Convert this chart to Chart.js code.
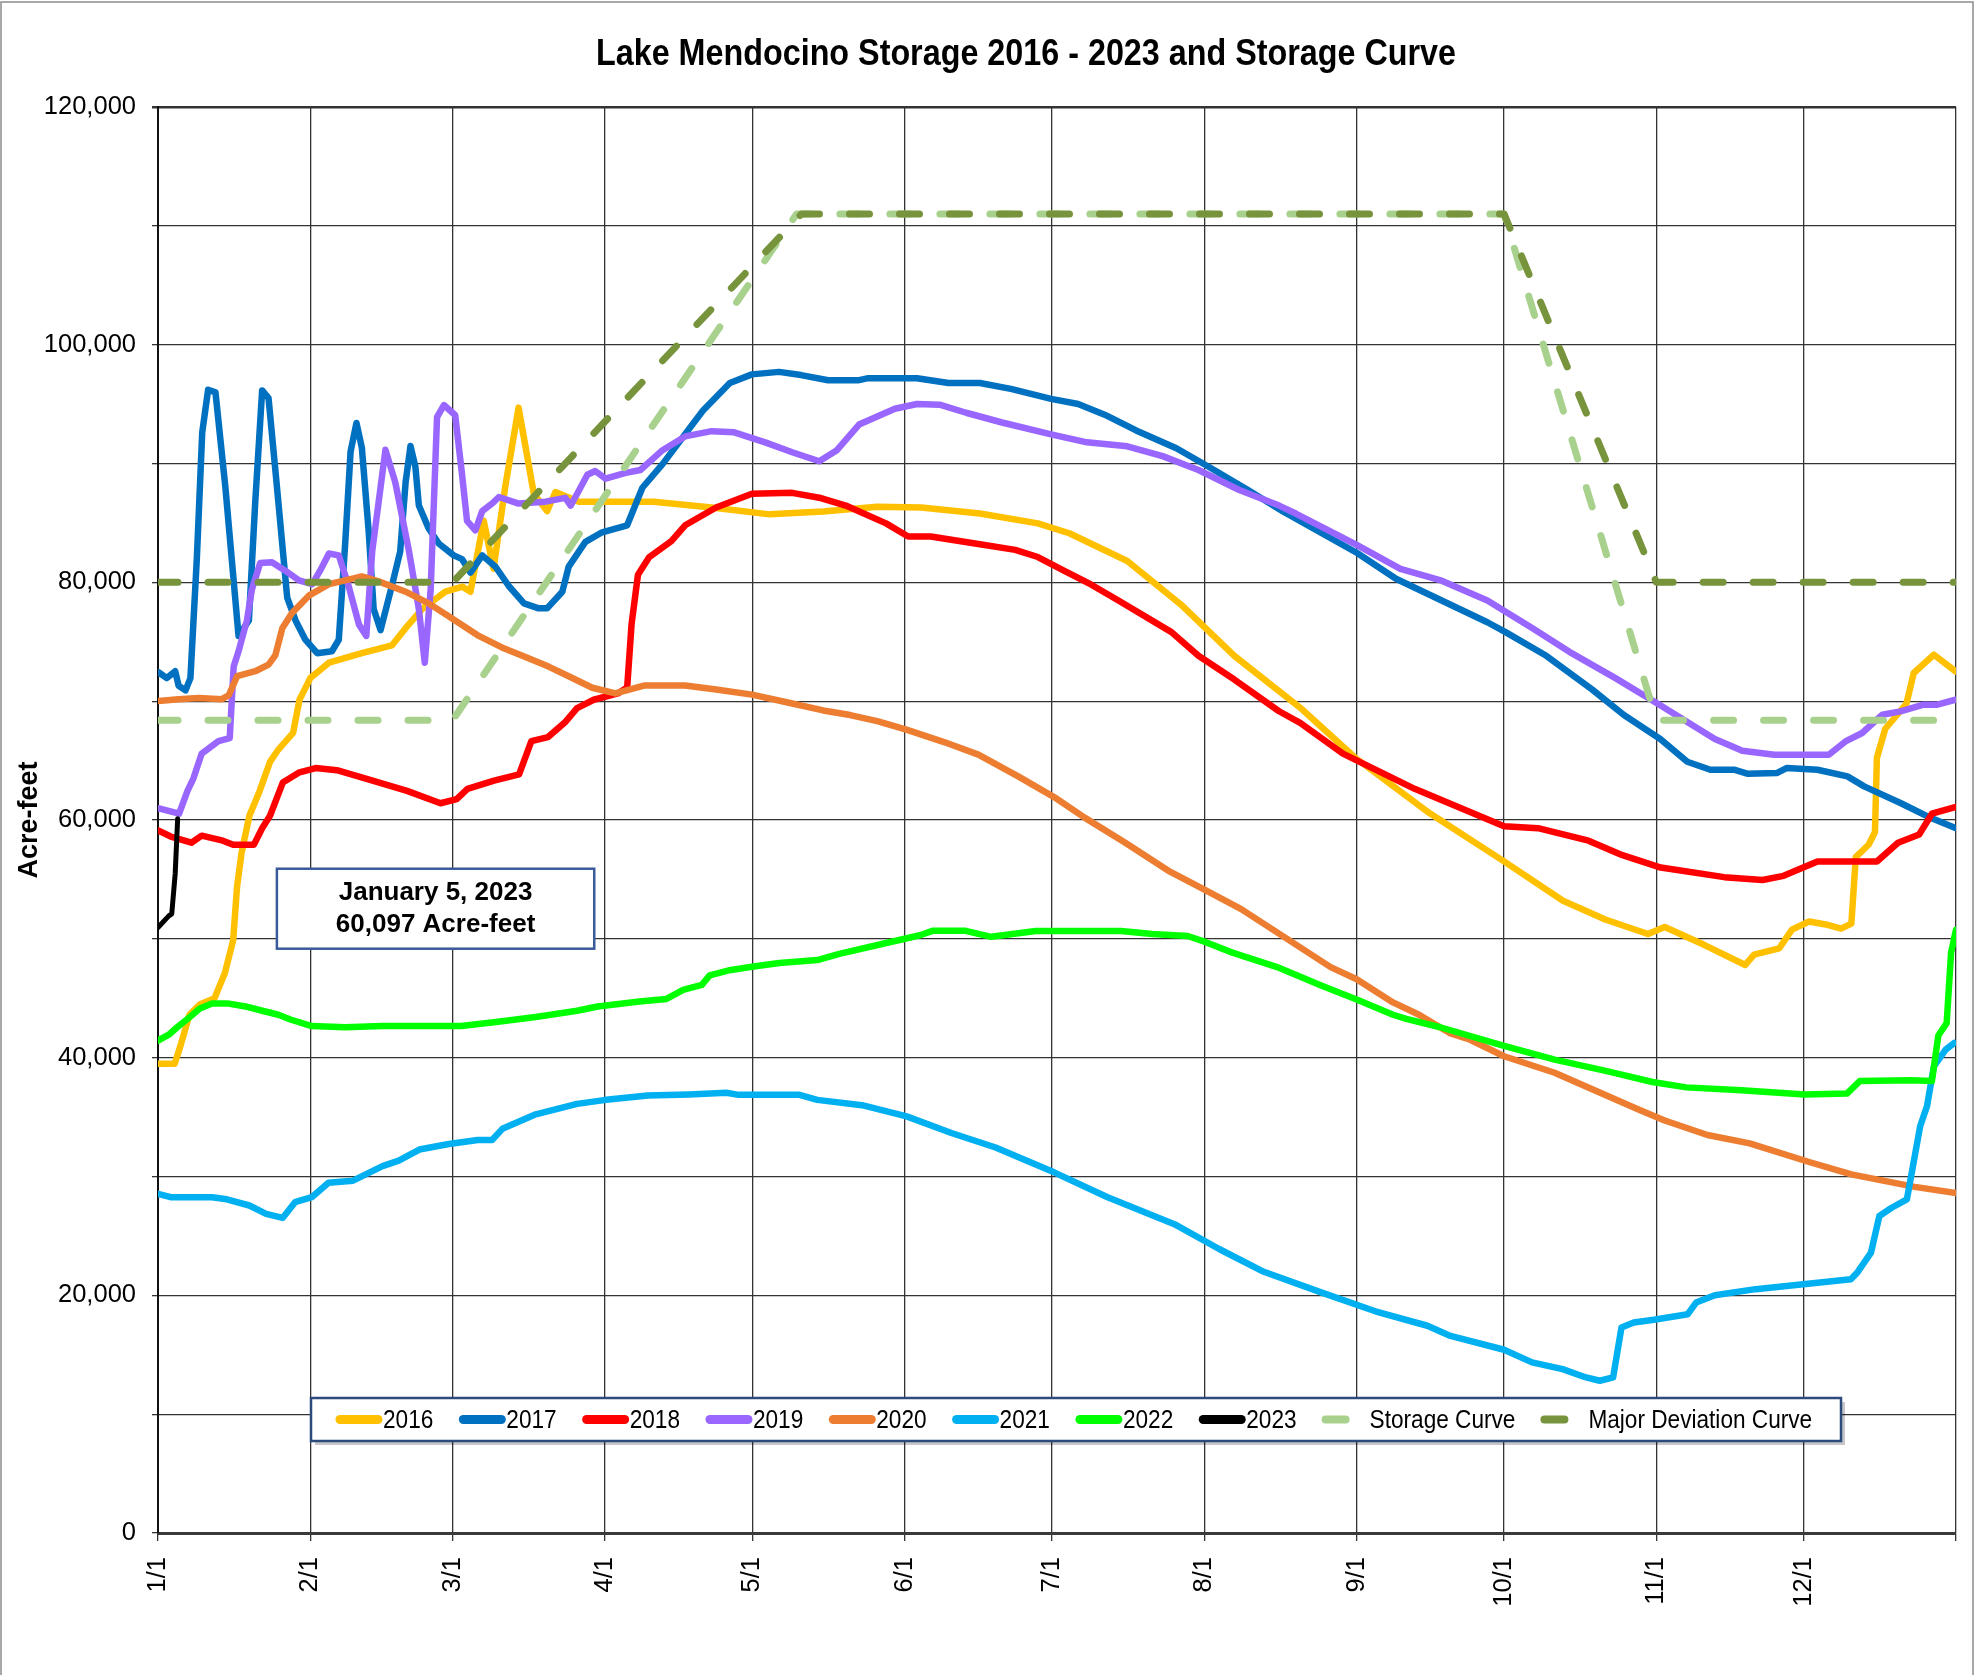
<!DOCTYPE html>
<html>
<head>
<meta charset="utf-8">
<title>Lake Mendocino Storage 2016 - 2023 and Storage Curve</title>
<script src="https://cdn.jsdelivr.net/npm/chart.js@4.4.1/dist/chart.umd.min.js"></script>
<style>
  html, body { margin: 0; padding: 0; background: #fff; }
  #wrap { position: relative; width: 1982px; height: 1675px; }
</style>
</head>
<body>
<div id="wrap"><canvas id="storageChart" width="1982" height="1675"></canvas></div>
<script>
// day-of-year positions (leap-year axis) for the month gridlines
const monthDays = [0, 31, 60, 91, 121, 152, 182, 213, 244, 274, 305, 335, 366];
const monthLabels = ['1/1', '2/1', '3/1', '4/1', '5/1', '6/1', '7/1', '8/1', '9/1', '10/1', '11/1', '12/1', ''];

// [day of year, acre-feet]
const storage2016 = [[0,39490],[3.4,39490],[4.7,41180],[6.4,43600],[8.5,44480],[11.5,45000],[13.6,47100],[15.3,49880],[16.1,54420],[17,57210],[18.6,60360],[20.7,62450],[22.8,64890],[24.5,65930],[27.5,67330],[28.8,70120],[31,71940],[34.8,73240],[41.5,74050],[47.6,74690],[50.4,76140],[53.8,77760],[58.5,79210],[62,79630],[63.6,79210],[66.3,85180],[68.3,81150],[70.7,88080],[73.4,94700],[76.5,87460],[79.2,85990],[80.9,87600],[85.7,86790],[90,86780],[100.9,86780],[112.7,86300],[124.5,85720],[135.4,85960],[146.4,86360],[155.4,86300],[167.3,85790],[179.1,84960],[185.5,84130],[197.3,81800],[208.2,78140],[219.1,73810],[232.5,69450],[243.7,65240],[258.4,60700],[274,56520],[286,53210],[294.6,51630],[303.3,50410],[306.7,51000],[314.5,49540],[323.1,47800],[324.9,48670],[330,49190],[332.6,50770],[336.1,51460],[339.5,51210],[342.6,50860],[344.7,51280],[345.6,56870],[348.2,57920],[349.5,58960],[349.9,65240],[351.6,67680],[355.9,69780],[357.4,72370],[361.5,73910],[365.9,72510]];
const storage2017 = [[0.1,72430],[1.8,71940],[3.5,72520],[4.2,71300],[5.6,70910],[6.6,71940],[7.9,81950],[9,92600],[10.2,96210],[11.7,95990],[13.7,88080],[16.4,75490],[18.5,76790],[19.8,86790],[21.2,96150],[22.5,95500],[24.2,88080],[26.3,78720],[28,76790],[30,75170],[32.4,74040],[35.4,74200],[36.8,75170],[38.1,83250],[39.2,91000],[40.4,93410],[41.5,91310],[42.9,84210],[43.9,77760],[45.3,75980],[47.6,79690],[49.3,82600],[50.4,88410],[51.4,91470],[52.4,89700],[53.1,86460],[55.1,84530],[57.2,83250],[60.2,82270],[61.9,81950],[63.6,80820],[66,82270],[68.7,81310],[71.4,79690],[74.5,78230],[77.5,77810],[79.2,77810],[82.3,79210],[83.6,81320],[87,83400],[90.4,84210],[95.5,84800],[98.6,87960],[102.7,89950],[110.9,94440],[116.4,96770],[120.9,97500],[126.4,97710],[130.9,97440],[136.4,97010],[142.7,97010],[144.6,97180],[154.5,97180],[160.9,96770],[167.3,96770],[173.6,96280],[181.8,95440],[187.3,95010],[192.7,94110],[199.1,92780],[207.3,91280],[213.6,89790],[221.8,87790],[229,85960],[244.1,82470],[252,80300],[261.3,78470],[270.6,76640],[274.3,75810],[282.6,73820],[291.9,70990],[298.4,68830],[305.8,66820],[311.3,64900],[316,64230],[320.8,64230],[323.5,63900],[329.6,63960],[331.6,64380],[337.8,64230],[343.9,63670],[347.3,62830],[354.7,61430],[360.2,60300],[365.9,59330]];
const storage2018 = [[0,59130],[2.6,58610],[6.8,58090],[8.9,58680],[13.2,58260],[15.3,57910],[19.5,57910],[21.2,59310],[22.8,60360],[25.4,63150],[28.8,64010],[32.1,64370],[36.4,64190],[42.3,63490],[50.7,62450],[57.5,61410],[60.8,61750],[63,62620],[68.4,63320],[73.5,63840],[76,66630],[79.4,66980],[82.8,68200],[85.3,69420],[88.7,70120],[93.6,70650],[95.5,71150],[96.4,76480],[97.7,80640],[100,82130],[104.5,83460],[107.3,84800],[113.6,86300],[120.9,87460],[129.1,87530],[134.6,87120],[140,86460],[148.2,84960],[152.7,83860],[157.3,83860],[167.3,83200],[174.5,82730],[179.1,82130],[184.5,80970],[190,79800],[195.5,78470],[206.3,75810],[211.8,73820],[219.1,71820],[228.2,69150],[232.5,68180],[241.2,65590],[255.8,62620],[274,59480],[280.9,59310],[291.2,58260],[298.1,57040],[305.9,56000],[318.8,55190],[326.6,54950],[330.9,55300],[337.8,56510],[349.9,56510],[354.2,58090],[358.5,58780],[361.1,60530],[366,61110]];
const storage2019 = [[0,60990],[4.3,60530],[6,62450],[7.2,63490],[8.9,65590],[12.3,66630],[14.6,66900],[15.4,72910],[16.4,74200],[18.1,76790],[19.1,79370],[20.8,81630],[23.2,81690],[25.9,80980],[28.7,80170],[31.4,79850],[33,80980],[34.8,82430],[36.8,82270],[38.8,79690],[40.9,76460],[42.4,75490],[43.6,82600],[46.3,91150],[48.3,88410],[51.1,82600],[53.1,77760],[54.3,73240],[55.5,79370],[56.8,93900],[58.2,94920],[60.5,94060],[61.9,89050],[62.9,85180],[64.6,84370],[66,85990],[68,86630],[69.4,87180],[73.4,86630],[78.9,86790],[82.9,87110],[84,86460],[85.3,87430],[87.4,89050],[89,89370],[91.1,88720],[95.2,89210],[98.2,89450],[102.7,91120],[107.3,92280],[112.7,92720],[117.3,92620],[123.6,91780],[129.1,90950],[134.6,90190],[138.2,91120],[142.7,93280],[150,94610],[154.5,95010],[159.1,94950],[164.5,94270],[171.8,93450],[181.8,92450],[189.1,91780],[197.3,91450],[204.5,90620],[211.8,89450],[220,87790],[228.2,86460],[231.6,85790],[244.1,83130],[252.9,81140],[261.3,80140],[270.6,78470],[279.8,76140],[287.3,74150],[296.5,71980],[305.8,69650],[316.9,66820],[322.5,65830],[329,65490],[340.1,65490],[343.5,66610],[346.9,67320],[351,68860],[354.7,69140],[359.4,69700],[362.2,69700],[365.9,70120]];
const storage2020 = [[0.1,70010],[4.2,70170],[8.3,70270],[13,70170],[14.4,70500],[16.1,72100],[19.8,72520],[22.5,73070],[23.9,73880],[25.3,76140],[27.3,77430],[30.7,78880],[34.8,79850],[38.1,80170],[41.5,80500],[44.9,80080],[50.4,79210],[55.1,78230],[60.5,76790],[65.3,75490],[70,74520],[74.8,73720],[79.5,72910],[83.6,72100],[88.4,71130],[93.1,70650],[99.1,71320],[107.3,71320],[113.6,70990],[120.9,70550],[128.2,69890],[135.4,69220],[140.9,68830],[146.4,68320],[152.5,67580],[160,66560],[167,65500],[175.1,63670],[182.4,61930],[188.7,60180],[196.9,58090],[206,55650],[213.3,54080],[220.5,52500],[229.6,50060],[238.7,47620],[244,46600],[251.4,44650],[256.7,43610],[263.1,42040],[267.1,41510],[274,40120],[284.3,38730],[293,37150],[301.6,35590],[306.7,34710],[315.4,33490],[324,32790],[336.1,31220],[344.7,30180],[357.6,29130],[366,28600]];
const storage2021 = [[0,28540],[2.6,28260],[11,28260],[14,28080],[18.6,27560],[22,26860],[25.4,26520],[27.9,27840],[31.3,28260],[34.7,29480],[39.7,29650],[45.7,30870],[49,31330],[53.2,32270],[59.2,32730],[65.1,33070],[68,33070],[70.1,34010],[76.9,35230],[85.3,36110],[91.2,36450],[99.7,36810],[108.1,36910],[115.7,37050],[118.2,36870],[130.6,36870],[134.2,36450],[143.3,36000],[152.4,35060],[161.5,33660],[170.5,32440],[182.4,30350],[193.3,28260],[206.9,25990],[216,23900],[225.1,21980],[236.9,20230],[247.8,18660],[258.4,17440],[263.1,16580],[274,15420],[279.7,14360],[285.9,13790],[290.7,13090],[293.5,12810],[296.2,13090],[297.9,17290],[300.4,17710],[304.5,17940],[311.4,18410],[313.1,19390],[316.9,20010],[325.2,20520],[334.9,20930],[344.6,21360],[345.9,21910],[348.7,23600],[350.4,26680],[352.9,27370],[356,28070],[357,30320],[358.7,34230],[360.1,35920],[361.5,39270],[363.9,40680],[365.6,41230]];
const storage2022 = [[0,41440],[2.2,41930],[3.9,42560],[6,43260],[8.5,44130],[11,44550],[14.4,44550],[17.8,44310],[21.2,43950],[24.5,43610],[27.1,43190],[31.3,42660],[38.1,42560],[45.7,42660],[61.7,42660],[68.4,42980],[76.9,43430],[85.3,43950],[89.5,44310],[98,44730],[103.5,44940],[106.9,45700],[110.7,46120],[112.3,46920],[116.6,47380],[121.6,47690],[126.5,47970],[134.2,48210],[138.7,48740],[147.8,49610],[155.1,50300],[157.8,50690],[164.2,50690],[169.6,50170],[178.7,50660],[196,50660],[202.4,50410],[209.6,50240],[213.3,49720],[218.7,48840],[227.8,47620],[236.9,46050],[244,44900],[251.4,43610],[254.1,43260],[261,42560],[274,40990],[284.3,39840],[294.7,38890],[304.2,37950],[311.1,37500],[322.3,37250],[335.2,36910],[343.8,36980],[346.4,38030],[356.8,38100],[361.1,38030],[362.4,41860],[364.1,42910],[365,48840],[366,50760]];
const storage2023 = [[0,50960],[2.2,51930],[2.8,52100],[3.5,55480],[4,60097]];
const storageCurve = [[0,68400],[60,68400],[130,111000],[274,111000],[305,68400],[366,68400]];
const majorDeviationCurve = [[0,80000],[60,80000],[131,111000],[274,111000],[305,80000],[366,80000]];

const seriesNames = ['2016', '2017', '2018', '2019', '2020', '2021', '2022', '2023', 'Storage Curve', 'Major Deviation Curve'];
const seriesColors = ['#FFC000', '#0070C0', '#FF0000', '#9966FF', '#ED7D31', '#00B0F0', '#00FF00', '#000000', '#A9D18E', '#77933C'];
const seriesData = [storage2016, storage2017, storage2018, storage2019, storage2020, storage2021, storage2022, storage2023, storageCurve, majorDeviationCurve];

// annotation box corners in data units (day, acre-feet)
const noteDays = [24.2, 88.8];
const noteValues = [55900, 49170];
const noteLines = ['January 5, 2023', '60,097 Acre-feet'];

const chartTitle = 'Lake Mendocino Storage 2016 - 2023 and Storage Curve';

const isDashed = (i) => i >= 8;

const datasets = seriesNames.map((name, i) => ({
  label: name,
  data: seriesData[i],
  borderColor: seriesColors[i],
  backgroundColor: seriesColors[i],
  borderWidth: isDashed(i) ? 7 : (i === 7 ? 5 : 6.5),
  borderDash: isDashed(i) ? [20, 30] : [],
  borderCapStyle: 'round',
  borderJoinStyle: 'round',
  pointRadius: 0,
  pointHoverRadius: 0,
  tension: 0,
  fill: false,
  order: seriesNames.length - i,
}));

// draws condensed text (the reference uses a narrow face)
function drawNarrow(ctx, text, x, y, squeeze) {
  ctx.save();
  ctx.translate(x, y);
  ctx.scale(squeeze, 1);
  ctx.fillText(text, 0, 0);
  ctx.restore();
}

const framePlugin = {
  id: 'frame',
  beforeDraw(chart) {
    const { ctx, width, height } = chart;
    ctx.save();
    ctx.fillStyle = '#ffffff';
    ctx.fillRect(0, 0, width, height);
    ctx.strokeStyle = '#8c8c8c';
    ctx.lineWidth = 1.5;
    ctx.beginPath();
    ctx.moveTo(1, height + 5);
    ctx.lineTo(1, 2);
    ctx.lineTo(1973, 2);
    ctx.lineTo(1973, height + 5);
    ctx.stroke();
    ctx.restore();
  },
  afterDraw(chart) {
    const { ctx } = chart;
    ctx.save();
    ctx.fillStyle = '#000';
    ctx.font = 'bold 37px "Liberation Sans"';
    ctx.textAlign = 'center';
    ctx.textBaseline = 'alphabetic';
    const squeeze = 860 / ctx.measureText(chartTitle).width;
    drawNarrow(ctx, chartTitle, 1026, 65, squeeze);
    ctx.restore();
  },
};

const notePlugin = {
  id: 'note',
  afterDraw(chart) {
    const { ctx, scales } = chart;
    const left = scales.x.getPixelForValue(noteDays[0]);
    const right = scales.x.getPixelForValue(noteDays[1]);
    const top = scales.y.getPixelForValue(noteValues[0]);
    const bottom = scales.y.getPixelForValue(noteValues[1]);
    ctx.save();
    ctx.fillStyle = '#ffffff';
    ctx.fillRect(left, top, right - left, bottom - top);
    ctx.strokeStyle = '#3A5A9A';
    ctx.lineWidth = 2.5;
    ctx.strokeRect(left, top, right - left, bottom - top);
    ctx.fillStyle = '#000';
    ctx.font = 'bold 26px "Liberation Sans"';
    ctx.textAlign = 'center';
    ctx.textBaseline = 'alphabetic';
    const cx = (left + right) / 2;
    ctx.fillText(noteLines[0], cx, top + 31);
    ctx.fillText(noteLines[1], cx, top + 63);
    ctx.restore();
  },
};

const legendPlugin = {
  id: 'boxLegend',
  afterDraw(chart) {
    const { ctx } = chart;
    const box = { left: 311, top: 1398, right: 1841, bottom: 1441 };
    const cy = (box.top + box.bottom) / 2;
    const squeeze = 0.87;
    ctx.save();
    ctx.fillStyle = 'rgba(0,0,0,0.22)';
    ctx.fillRect(box.left + 4, box.top + 4, box.right - box.left, box.bottom - box.top);
    ctx.fillStyle = '#ffffff';
    ctx.fillRect(box.left, box.top, box.right - box.left, box.bottom - box.top);
    ctx.strokeStyle = '#2E4A7D';
    ctx.lineWidth = 2.5;
    ctx.strokeRect(box.left, box.top, box.right - box.left, box.bottom - box.top);

    ctx.font = '26px "Liberation Sans"';
    ctx.textBaseline = 'middle';
    ctx.textAlign = 'left';
    let x = 335;
    chart.data.datasets.forEach((ds) => {
      ctx.strokeStyle = ds.borderColor;
      ctx.lineCap = 'round';
      ctx.beginPath();
      if (ds.borderDash.length) {
        ctx.setLineDash(ds.borderDash);
        ctx.lineWidth = 8;
        ctx.moveTo(x + 4, cy);
        ctx.lineTo(x + 44, cy);
      } else {
        ctx.setLineDash([]);
        ctx.lineWidth = 9;
        ctx.moveTo(x + 5, cy);
        ctx.lineTo(x + 43, cy);
      }
      ctx.stroke();
      ctx.setLineDash([]);
      ctx.fillStyle = '#000';
      const tx = x + 48;
      drawNarrow(ctx, ds.label, tx, cy + 1, squeeze);
      x = tx + ctx.measureText(ds.label).width * squeeze + 25;
    });
    ctx.restore();
  },
};

const gridColor = '#333333';

new Chart(document.getElementById('storageChart'), {
  type: 'line',
  data: { datasets },
  plugins: [framePlugin, notePlugin, legendPlugin],
  options: {
    responsive: false,
    animation: false,
    devicePixelRatio: 1,
    layout: { padding: { left: 0, right: 26, top: 107, bottom: 0 } },
    plugins: {
      legend: { display: false },
      title: { display: false },
      tooltip: { enabled: false },
    },
    scales: {
      x: {
        type: 'linear',
        min: 0,
        max: 366,
        afterBuildTicks: (scale) => {
          scale.ticks = monthDays.map((value) => ({ value }));
        },
        afterFit: (scale) => {
          scale.height = 142;
          scale.paddingLeft = 0;
          scale.paddingRight = 0;
        },
        ticks: {
          autoSkip: false,
          minRotation: 90,
          maxRotation: 90,
          padding: 16,
          color: '#000',
          font: { family: 'Liberation Sans', size: 25.5 },
          callback: (value) => {
            const idx = monthDays.indexOf(value);
            return idx >= 0 ? monthLabels[idx] : '';
          },
        },
        grid: { color: gridColor, lineWidth: 1.3, tickLength: 8 },
        border: { color: '#3a3a3a', width: 3 },
      },
      y: {
        min: 0,
        max: 120000,
        afterFit: (scale) => { scale.width = 158; },
        ticks: {
          stepSize: 10000,
          padding: 16,
          color: '#000',
          font: { family: 'Liberation Sans', size: 25.5 },
          callback: (value) => (value % 20000 === 0 ? value.toLocaleString('en-US') : ''),
        },
        grid: {
          color: gridColor,
          tickLength: 6,
          lineWidth: (ctx) => {
            const v = ctx.tick ? ctx.tick.value : null;
            return v === 120000 ? 2.5 : 1.3;
          },
        },
        border: { color: '#111', width: 2 },
        title: {
          display: true,
          text: 'Acre-feet',
          color: '#000',
          font: { family: 'Liberation Sans', size: 27, weight: 'bold' },
          padding: { top: 13, bottom: 0 },
        },
      },
    },
  },
});
</script>
</body>
</html>
